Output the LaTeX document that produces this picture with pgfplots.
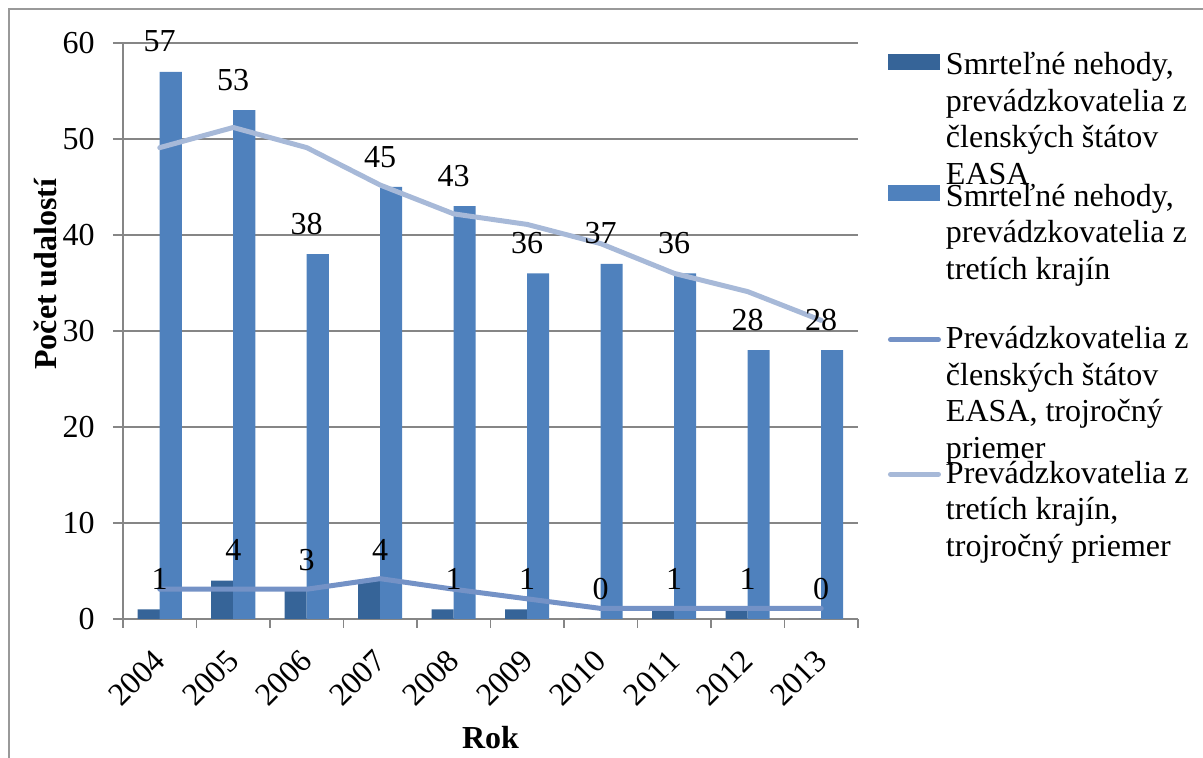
\documentclass[border=0pt]{standalone}
\usepackage{fontspec}
\setmainfont{Liberation Serif}
\usepackage{pgfplots}
\pgfplotsset{compat=1.18}

\definecolor{easaDark}{RGB}{54,100,152}
\definecolor{thirdBlue}{RGB}{79,129,189}
\definecolor{easaLine}{RGB}{116,146,198}
\definecolor{thirdLine}{RGB}{167,185,216}
\definecolor{axisgray}{RGB}{134,134,134}

\newcommand\fs{\fontsize{16}{18.25}\selectfont}
% legend text: first line sits on the row baseline, the rest hangs below
\newcommand\legtxt[1]{\fs\begin{tabular}[t]{@{}l@{}}#1\end{tabular}}

\begin{document}
\begin{tikzpicture}[x=1pt,y=1pt]
\useasboundingbox (0,0) rectangle (601.5,379);
\draw[color=black!40, line width=0.75pt] (4.5,0) -- (4.5,374.5) -- (601.5,374.5);
\begin{axis}[
  at={(61.5pt,69.5pt)}, anchor=south west,
  scale only axis, width=367.5pt, height=288pt,
  xmin=-0.5, xmax=9.5, ymin=0, ymax=60,
  clip=false,
  axis lines*=left,
  axis line style={axisgray, line width=0.75pt},
  ytick={0,10,...,60},
  ymajorgrids, grid style={axisgray, line width=0.75pt},
  xtick={0,...,9},
  xticklabels={2004,2005,2006,2007,2008,2009,2010,2011,2012,2013},
  minor xtick={-0.5,0.5,...,9.5},
  tick align=outside, major tick length=5pt, minor tick length=4.5pt,
  tick style={axisgray, line width=0.75pt},
  major x tick style={draw=none},
  /pgf/number format/assume math mode=true,
  yticklabel style={font=\fs, inner sep=0pt, xshift=-9pt},
  xticklabel style={font=\fs, inner sep=0pt, anchor=east, yshift=-13pt, rotate=45},
  ylabel={\textbf{Počet udalostí}},
  xlabel={\textbf{Rok}},
  every axis y label/.style={at={(axis description cs:-0.106,0.599)}, rotate=90, anchor=center, font=\fs},
  every axis x label/.style={at={(axis description cs:0.5,-0.2066)}, anchor=center, font=\fs},
  every node near coord/.append style={font=\fs, inner sep=0pt, anchor=south, yshift=9.6pt, text=black},
  legend style={at={(axis description cs:1.0408,0.9896)}, anchor=north west,
    draw=none, fill=none, inner sep=0pt, outer sep=0pt,
    row sep=0pt, column sep=2.5pt, cells={anchor=base west}, nodes={inner sep=0pt}},
]
% the invisible path in each legend image fixes the height of its legend row
\addplot[ybar, bar width=11pt, bar shift=-5.5pt, fill=easaDark, draw=none,
  nodes near coords,
  legend image code/.code={\path[draw=none,fill=none] (0pt,-53pt) rectangle (0pt,12pt);
    \fill[easaDark] (0pt,2.5pt) rectangle (26pt,10.5pt);}]
  coordinates {(0,1) (1,4) (2,3) (3,4) (4,1) (5,1) (6,0) (7,1) (8,1) (9,0)};
\addlegendentry{\legtxt{Smrteľné nehody,\\prevádzkovatelia z\\členských štátov\\EASA}}

\addplot[ybar, bar width=11pt, bar shift=5.5pt, fill=thirdBlue, draw=none,
  nodes near coords,
  legend image code/.code={\path[draw=none,fill=none] (0pt,-58.5pt) rectangle (0pt,12pt);
    \fill[thirdBlue] (0pt,2.5pt) rectangle (26pt,10.5pt);}]
  coordinates {(0,57) (1,53) (2,38) (3,45) (4,43) (5,36) (6,37) (7,36) (8,28) (9,28)};
\addlegendentry{\legtxt{Smrteľné nehody,\\prevádzkovatelia z\\tretích krajín}}

\addplot[easaLine, line width=2.5pt, line cap=round, line join=round, mark=none,
  legend image code/.code={\path[draw=none,fill=none] (0pt,-54.5pt) rectangle (0pt,12pt);
    \draw[easaLine, line width=2.5pt, line cap=round] (1pt,4.5pt) -- (25pt,4.5pt);}]
  coordinates {(0,3.1) (1,3.1) (2,3.1) (3,4.2) (4,3.1) (5,2.1) (6,1.1) (7,1.1) (8,1.1) (9,1.1)};
\addlegendentry{\legtxt{Prevádzkovatelia z\\členských štátov\\EASA, trojročný\\priemer}}

\addplot[thirdLine, line width=2.5pt, line cap=round, line join=round, mark=none,
  legend image code/.code={\path[draw=none,fill=none] (0pt,-40pt) rectangle (0pt,12pt);
    \draw[thirdLine, line width=2.5pt, line cap=round] (1pt,4.5pt) -- (25pt,4.5pt);}]
  coordinates {(0,49.1) (1,51.2) (2,49.1) (3,45.2) (4,42.2) (5,41.1) (6,39.1) (7,36) (8,34.1) (9,31.1)};
\addlegendentry{\legtxt{Prevádzkovatelia z\\tretích krajín,\\trojročný priemer}}
\end{axis}
\end{tikzpicture}
\end{document}
